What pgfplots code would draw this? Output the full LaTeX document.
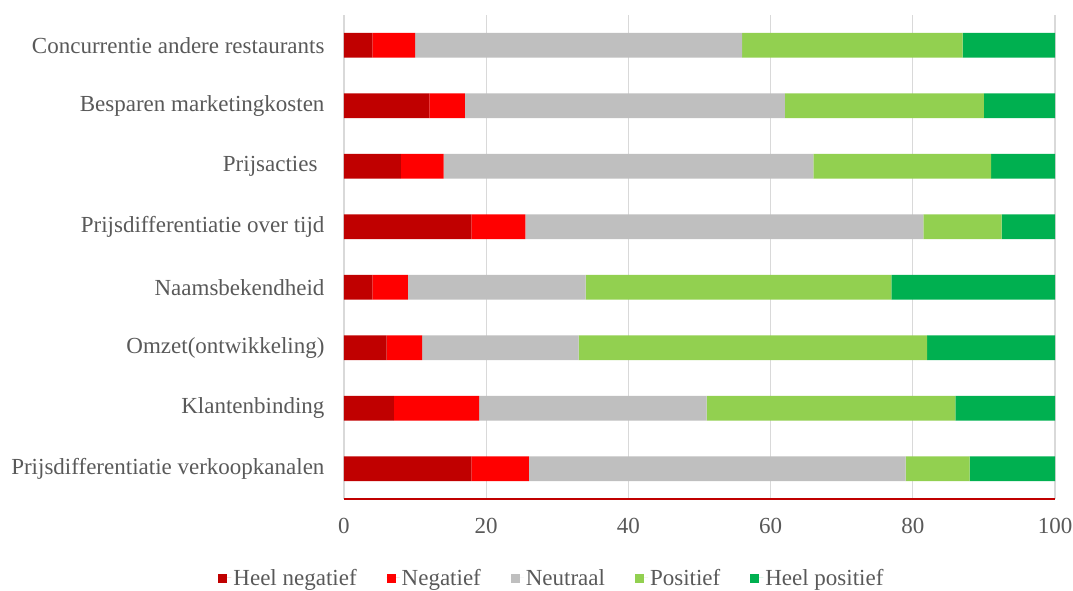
\documentclass[border=0pt]{standalone}
\usepackage{fontspec}
\setmainfont{Liberation Serif}
\usepackage{pgfplots}
\usepackage{pgfplotstable}
\pgfplotsset{compat=1.18}
\definecolor{cHN}{HTML}{C00000}
\definecolor{cN}{HTML}{FF0000}
\definecolor{cNe}{HTML}{BFBFBF}
\definecolor{cP}{HTML}{92D050}
\definecolor{cHP}{HTML}{00B050}
\definecolor{txt}{HTML}{595959}
\definecolor{gridc}{HTML}{D9D9D9}
\pgfplotstableread{
y hn n ne p hp
0 17.9 8.1 53 9 12
1 7 12 32 35 14
2 6 5 22 49 18
3 4 5 25 43 23
4 17.9 7.6 56 11 7.5
5 8 6 52 25 9
6 12 5 45 28 10
7 4 6 46 31 13
}\data
\begin{document}
\begin{tikzpicture}
\path[use as bounding box] (-344pt,-91pt) rectangle (729pt,499pt);
\begin{axis}[
  at={(0pt,0pt)}, anchor=south west,
  scale only axis, width=711pt, height=484pt,
  xbar stacked, bar width=24.7pt,
  xmin=0, xmax=100, ymin=-0.5, ymax=7.5,
  xtick={0,20,40,60,80,100},
  ytick={0,1,2,3,4,5,6,7},
  yticklabels={Prijsdifferentiatie verkoopkanalen, Klantenbinding, Omzet(ontwikkeling), Naamsbekendheid, Prijsdifferentiatie over tijd, {Prijsacties\hspace*{7pt}}, Besparen marketingkosten, Concurrentie andere restaurants},
  axis x line*=bottom, axis y line*=left,
  x axis line style={draw=cHN, line width=1.5pt, -},
  y axis line style={draw=none},
  xmajorgrids, major grid style={draw=gridc, line width=1.3pt},
  major tick length=0pt,
  tick label style={font=\fontsize{23}{26}\selectfont, text=txt},
  /pgf/number format/assume math mode=true,
  xticklabel style={yshift=-16pt},
  yticklabel style={xshift=-16pt},
  legend style={at={(0.2925,-0.163)}, anchor=center, draw=none, fill=none,
    legend columns=5, font=\fontsize{23}{26}\selectfont, text=txt,
    /tikz/every even column/.append style={column sep=28pt}},
  legend image code/.code={\fill[#1] (0pt,-5pt) rectangle (9pt,4pt); \path (0pt,0pt) -- (13pt,0pt);},
]
\addplot[fill=cHN, draw=none] table[x=hn, y=y] {\data};
\addlegendentry{Heel negatief}
\addplot[fill=cN, draw=none] table[x=n, y=y] {\data};
\addlegendentry{Negatief}
\addplot[fill=cNe, draw=none] table[x=ne, y=y] {\data};
\addlegendentry{Neutraal}
\addplot[fill=cP, draw=none] table[x=p, y=y] {\data};
\addlegendentry{Positief}
\addplot[fill=cHP, draw=none] table[x=hp, y=y] {\data};
\addlegendentry{Heel positief}
\end{axis}
\end{tikzpicture}
\end{document}
